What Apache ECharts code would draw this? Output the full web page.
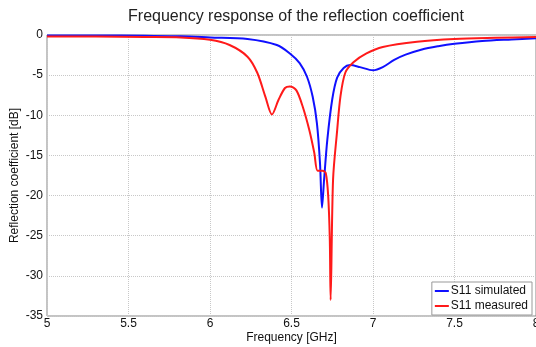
<!DOCTYPE html>
<html>
<head>
<meta charset="utf-8">
<script src="https://cdn.jsdelivr.net/npm/echarts@6/dist/echarts.min.js"></script>
<style>
  html, body { margin: 0; padding: 0; background: #fff; }
  #chart { width: 536px; height: 347px; }
</style>
</head>
<body>
<div id="chart"></div>
<script>
// frequency [GHz] / reflection coefficient [dB]
const simFreq = [5.0, 5.3, 5.6, 5.82, 6.0, 6.23, 6.41, 6.49, 6.55, 6.595, 6.63, 6.656, 6.675, 6.687, 6.70, 6.72, 6.75, 6.78, 6.82, 6.86, 6.92, 7.0, 7.06, 7.13, 7.2, 7.3, 7.4, 7.5, 7.67, 7.85, 8.0];
const simDb   = [-0.05, -0.05, -0.1, -0.15, -0.3, -0.5, -1.25, -2.3, -3.5, -5.2, -7.7, -11, -16, -21.5, -18, -13, -8, -5.3, -4.1, -3.75, -4.0, -4.4, -4.0, -3.1, -2.45, -1.8, -1.4, -1.1, -0.75, -0.55, -0.4];

const measFreq = [5.0, 5.3, 5.6, 5.82, 6.0, 6.12, 6.23, 6.29, 6.34, 6.38, 6.42, 6.46, 6.49, 6.53, 6.57, 6.61, 6.64, 6.66, 6.69, 6.71, 6.725, 6.735, 6.74, 6.755, 6.78, 6.80, 6.83, 6.88, 6.96, 7.06, 7.27, 7.5, 7.75, 8.0];
const measDb   = [-0.2, -0.2, -0.25, -0.3, -0.6, -1.25, -2.7, -4.7, -7.7, -9.9, -8.1, -6.6, -6.4, -6.9, -9, -11.9, -14.7, -16.9, -16.9, -17.2, -20, -25.5, -33, -18, -11.9, -7.7, -4.7, -3.4, -2.3, -1.5, -0.85, -0.5, -0.35, -0.25];

const xTicks = [5, 5.5, 6, 6.5, 7, 7.5, 8];
const yTicks = [0, -5, -10, -15, -20, -25, -30, -35];

const font = 'Liberation Sans, Arial, sans-serif';
const chart = echarts.init(document.getElementById('chart'));

chart.setOption({
  animation: false,
  backgroundColor: '#fff',
  title: {
    text: 'Frequency response of the reflection coefficient',
    left: 291, top: 4, textAlign: 'center',
    textStyle: { fontFamily: font, fontSize: 16, fontWeight: 'normal', color: '#222' }
  },
  legend: {
    orient: 'vertical',
    right: 4, top: 282,
    itemWidth: 14, itemHeight: 2, itemGap: 3,
    padding: [3, 4, 3, 2],
    borderColor: '#999', borderWidth: 1, borderRadius: 0,
    backgroundColor: '#fff',
    textStyle: { fontFamily: font, fontSize: 12, color: '#111', padding: [0, 0, 0, -3] },
    data: ['S11 simulated', 'S11 measured']
  },
  grid: {
    left: 47, right: 0, top: 35, bottom: 31,
    outerBoundsMode: 'none', containLabel: false,
    show: true, borderColor: '#888', borderWidth: 1
  },
  xAxis: {
    type: 'value', min: xTicks[0], max: xTicks[xTicks.length - 1], interval: 0.5,
    name: 'Frequency [GHz]', nameLocation: 'middle', nameGap: 16, nameMoveOverlap: false,
    nameTextStyle: { fontFamily: font, fontSize: 12, color: '#111' },
    axisLine: { show: false },
    axisTick: { show: false },
    axisLabel: { fontFamily: font, fontSize: 12, color: '#111', margin: 2 },
    splitLine: { show: true, lineStyle: { color: '#c8c8c8', type: [1, 1], width: 1 } }
  },
  yAxis: {
    type: 'value', min: yTicks[yTicks.length - 1], max: yTicks[0], interval: 5,
    name: 'Reflection coefficient [dB]', nameLocation: 'middle', nameGap: 26, nameMoveOverlap: false,
    nameTextStyle: { fontFamily: font, fontSize: 12, color: '#111' },
    axisLine: { show: false },
    axisTick: { show: false },
    axisLabel: { fontFamily: font, fontSize: 12, color: '#111', margin: 4 },
    splitLine: { show: true, lineStyle: { color: '#c8c8c8', type: [1, 1], width: 1 } }
  },
  series: [
    {
      name: 'S11 simulated', type: 'line', symbol: 'none',
      smooth: 0.3,
      lineStyle: { color: '#1010ff', width: 2 }, itemStyle: { color: '#1010ff' },
      data: simFreq.map((f, i) => [f, simDb[i]])
    },
    {
      name: 'S11 measured', type: 'line', symbol: 'none',
      smooth: 0.3,
      lineStyle: { color: '#ff1a1a', width: 2 }, itemStyle: { color: '#ff1a1a' },
      data: measFreq.map((f, i) => [f, measDb[i]])
    }
  ]
});
</script>
</body>
</html>
